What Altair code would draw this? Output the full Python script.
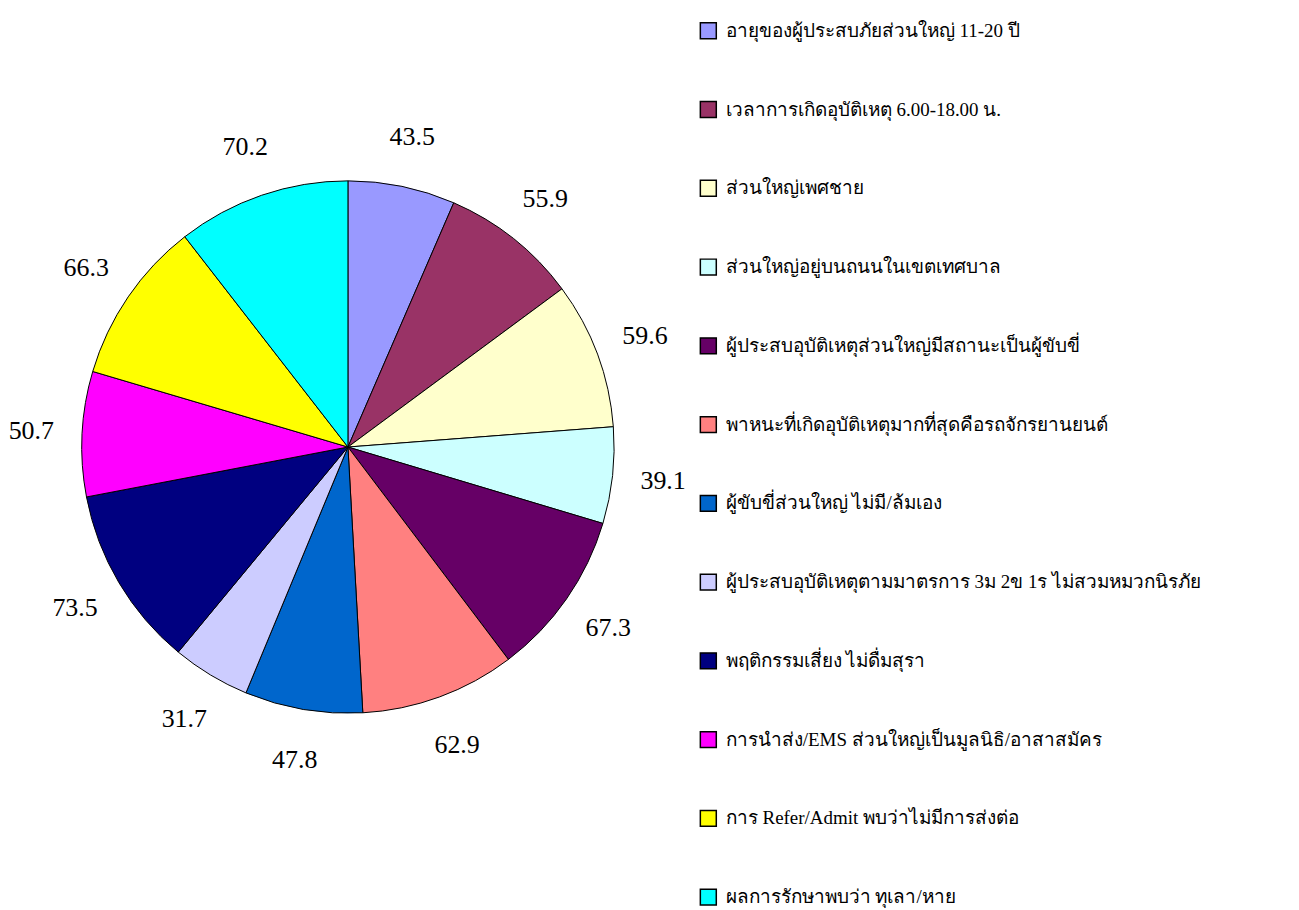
import altair as alt
import pandas as pd

categories = [
    "อายุของผู้ประสบภัยส่วนใหญ่ 11-20 ปี",
    "เวลาการเกิดอุบัติเหตุ 6.00-18.00 น.",
    "ส่วนใหญ่เพศชาย",
    "ส่วนใหญ่อยู่บนถนนในเขตเทศบาล",
    "ผู้ประสบอุบัติเหตุส่วนใหญ่มีสถานะเป็นผู้ขับขี่",
    "พาหนะที่เกิดอุบัติเหตุมากที่สุดคือรถจักรยานยนต์",
    "ผู้ขับขี่ส่วนใหญ่ ไม่มี/ล้มเอง",
    "ผู้ประสบอุบัติเหตุตามมาตรการ 3ม 2ข 1ร  ไม่สวมหมวกนิรภัย",
    "พฤติกรรมเสี่ยง ไม่ดื่มสุรา",
    "การนำส่ง/EMS ส่วนใหญ่เป็นมูลนิธิ/อาสาสมัคร",
    "การ Refer/Admit พบว่าไม่มีการส่งต่อ",
    "ผลการรักษาพบว่า ทุเลา/หาย",
]
values = [43.5, 55.9, 59.6, 39.1, 67.3, 62.9, 47.8, 31.7, 73.5, 50.7, 66.3, 70.2]
colors = ["#9999FF", "#993366", "#FFFFCC", "#CCFFFF", "#660066", "#FF8080",
          "#0066CC", "#CCCCFF", "#000080", "#FF00FF", "#FFFF00", "#00FFFF"]

df = pd.DataFrame({"cat": categories, "value": values, "idx": list(range(len(values)))})
df["label"] = df["value"].map(lambda v: f"{v:.1f}")

base = alt.Chart(df).encode(
    theta=alt.Theta("value:Q", stack=True),
    order=alt.Order("idx:Q"),
)

pie = base.mark_arc(stroke="black", strokeWidth=1).encode(
    x=alt.value(337), y=alt.value(439),
    radius=alt.value(267),
    color=alt.Color(
        "cat:N",
        scale=alt.Scale(domain=categories, range=colors),
        legend=alt.Legend(
            title=None, orient="none", legendX=689, legendY=12,
            symbolType="square", symbolSize=256, symbolStrokeColor="black",
            symbolStrokeWidth=1.5, symbolOpacity=1,
            labelFont="Liberation Serif, Noto Sans, DejaVu Sans", labelFontSize=19,
            labelColor="black", labelLimit=0, rowPadding=56, labelOffset=8,
        ),
    ),
)

labels = base.mark_text(fontSize=26, font="Liberation Serif", color="black").encode(
    x=alt.value(337), y=alt.value(439),
    radius=alt.value(318),
    text="label:N",
)

chart = alt.layer(pie, labels).properties(width=1283, height=894, padding=0).configure_view(stroke=None)
chart.save("out.html", embed_options={"renderer": "svg", "actions": False})
